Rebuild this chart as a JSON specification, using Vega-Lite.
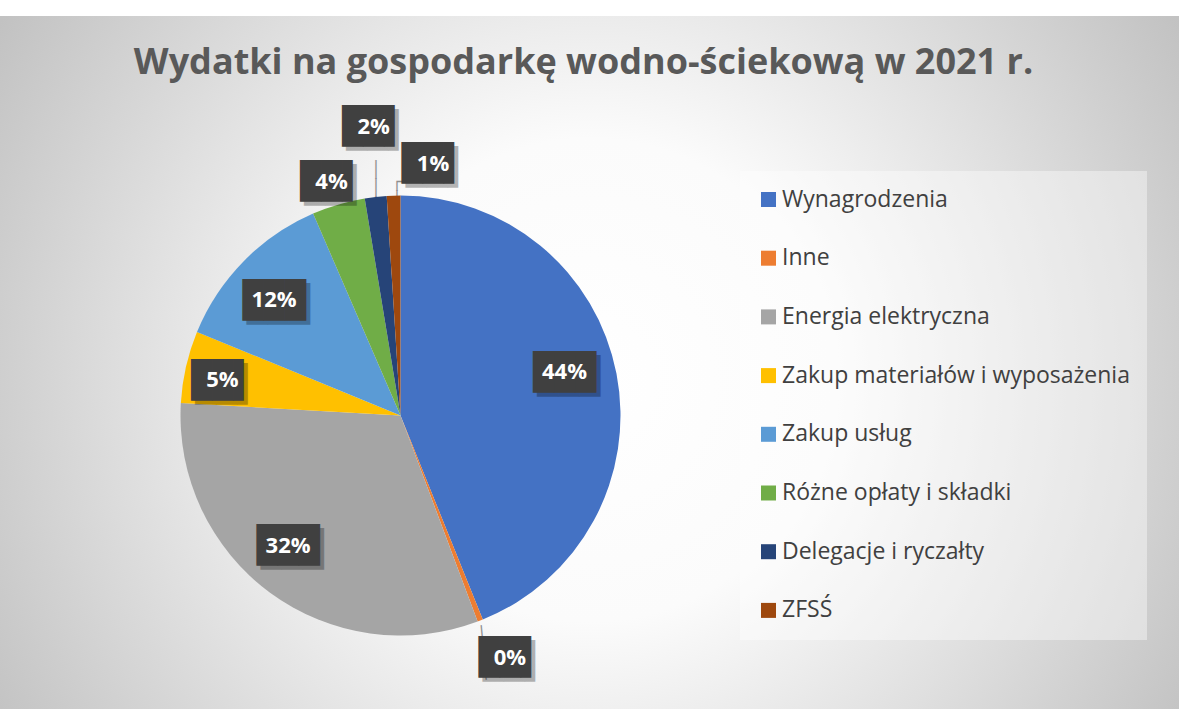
{
  "$schema": "https://vega.github.io/schema/vega-lite/v6.json",
  "width": 1557,
  "height": 799,
  "autosize": {"type": "none"},
  "padding": {"left": -378, "top": 16, "right": 0, "bottom": -106},
  "background": "#ffffff",
  "view": {
    "stroke": null,
    "fill": {
      "gradient": "radial",
      "x1": 0.6217, "y1": 0.4772, "x2": 0.6217, "y2": 0.4772,
      "r1": 0, "r2": 0.443,
      "stops": [
        {"offset": 0, "color": "#ffffff"},
        {"offset": 0.35, "color": "#fbfbfb"},
        {"offset": 1, "color": "#c2c2c2"}
      ]
    }
  },
  "config": {"font": "Open Sans"},
  "title": {
    "text": "Wydatki na gospodarkę wodno-ściekową w 2021 r.",
    "font": "Open Sans",
    "fontSize": 36,
    "fontWeight": "bold",
    "color": "#595959",
    "anchor": "middle",
    "frame": "group",
    "dx": 183,
    "offset": -94,
    "baseline": "alphabetic"
  },
  "data": {
    "values": [
      {"i": 0, "k": "Wynagrodzenia", "v": 0.439},
      {"i": 1, "k": "Inne", "v": 0.004},
      {"i": 2, "k": "Energia elektryczna", "v": 0.316},
      {"i": 3, "k": "Zakup materiałów i wyposażenia", "v": 0.053},
      {"i": 4, "k": "Zakup usług", "v": 0.123},
      {"i": 5, "k": "Różne opłaty i składki", "v": 0.039},
      {"i": 6, "k": "Delegacje i ryczałty", "v": 0.016},
      {"i": 7, "k": "ZFSŚ", "v": 0.010}
    ]
  },
  "encoding": {
    "theta": {"field": "v", "type": "quantitative", "stack": true},
    "order": {"field": "i", "type": "quantitative"},
    "detail": {"field": "k", "type": "nominal"}
  },
  "layer": [
    {
      "mark": {
        "type": "text",
        "font": "DejaVu Sans Mono",
        "fontSize": 16,
        "lineHeight": 18,
        "align": "left",
        "baseline": "middle",
        "color": "#8f8f8f",
        "radius": {"expr": "[0, 235.1, 0, 0, 0, 0, 246.7, 233.9][datum.i]"},
        "dx": {"expr": "[0, -8.5, 0, 0, 0, 0, -1.4, -1.0][datum.i]"},
        "angle": {"expr": "datum.i == 1 ? -5.4 : 0"}
      },
      "encoding": {
        "text": {
          "condition": [
            {"test": "datum.i == 6", "value": ["│", "│", "│", "│"]},
            {"test": "datum.i == 7", "value": ["┌─", "│", "│"]},
            {"test": "datum.i == 1", "value": ["│", "│", "│"]}
          ],
          "value": ""
        }
      }
    },
    {
      "mark": {"type": "arc", "radius": 220},
      "encoding": {
        "color": {
          "field": "k",
          "type": "nominal",
          "scale": {
            "domain": ["Wynagrodzenia", "Inne", "Energia elektryczna", "Zakup materiałów i wyposażenia", "Zakup usług", "Różne opłaty i składki", "Delegacje i ryczałty", "ZFSŚ"],
            "range": ["#4472C4", "#ED7D31", "#A5A5A5", "#FFC000", "#5B9BD5", "#70AD47", "#264478", "#9E480E"]
          },
          "legend": {
            "title": null,
            "orient": "none",
            "legendX": 1118,
            "legendY": 155,
            "fillColor": "rgba(255,255,255,0.4)",
            "padding": 17,
            "symbolType": "square",
            "symbolSize": 225,
            "symbolStrokeWidth": 0,
            "labelFont": "Open Sans",
            "labelFontSize": 23,
            "labelColor": "#404040",
            "rowPadding": 34.7,
            "labelOffset": 2,
            "labelLimit": 500
          }
        }
      }
    },
    {
      "mark": {
        "type": "text",
        "font": "DejaVu Sans Mono",
        "fontSize": 35,
        "align": "center",
        "baseline": "alphabetic",
        "color": "#000000",
        "opacity": 0.28,
        "radius": {"expr": "[169.8, 264.7, 171.8, 181.6, 171.5, 244.4, 290.8, 254.6][datum.i]"},
        "dx": {"expr": "[-2.7, 13.6, -10.6, -0.9, -4, 0, 5.9, 40.5][datum.i] + 4"},
        "dy": {"expr": "[-11.6, -5.5, -8.5, 4.2, 4.2, 0, -0.6, 2][datum.i] + 12.1 + 4"}
      },
      "encoding": {
        "text": {"condition": {"test": "datum.v >= 0.095", "value": "███"}, "value": "██▌"}
      }
    },
    {
      "mark": {
        "type": "text",
        "font": "DejaVu Sans Mono",
        "fontSize": 35,
        "align": "center",
        "baseline": "alphabetic",
        "color": "#404040",
        "radius": {"expr": "[169.8, 264.7, 171.8, 181.6, 171.5, 244.4, 290.8, 254.6][datum.i]"},
        "dx": {"expr": "[-2.7, 13.6, -10.6, -0.9, -4, 0, 5.9, 40.5][datum.i]"},
        "dy": {"expr": "[-11.6, -5.5, -8.5, 4.2, 4.2, 0, -0.6, 2][datum.i] + 12.1"}
      },
      "encoding": {
        "text": {"condition": {"test": "datum.v >= 0.095", "value": "███"}, "value": "██▌"}
      }
    },
    {
      "mark": {
        "type": "text",
        "font": "Open Sans",
        "fontSize": 22,
        "fontWeight": "bold",
        "align": "center",
        "baseline": "alphabetic",
        "color": "#ffffff",
        "radius": {"expr": "[169.8, 264.7, 171.8, 181.6, 171.5, 244.4, 290.8, 254.6][datum.i]"},
        "dx": {"expr": "[-2.7, 13.6, -10.6, -0.9, -4, 0, 5.9, 40.5][datum.i]"},
        "dy": {"expr": "[-11.6, -5.5, -8.5, 4.2, 4.2, 0, -0.6, 2][datum.i] + 7.9"}
      },
      "encoding": {
        "text": {"field": "v", "type": "quantitative", "format": ".0%"}
      }
    }
  ]
}
